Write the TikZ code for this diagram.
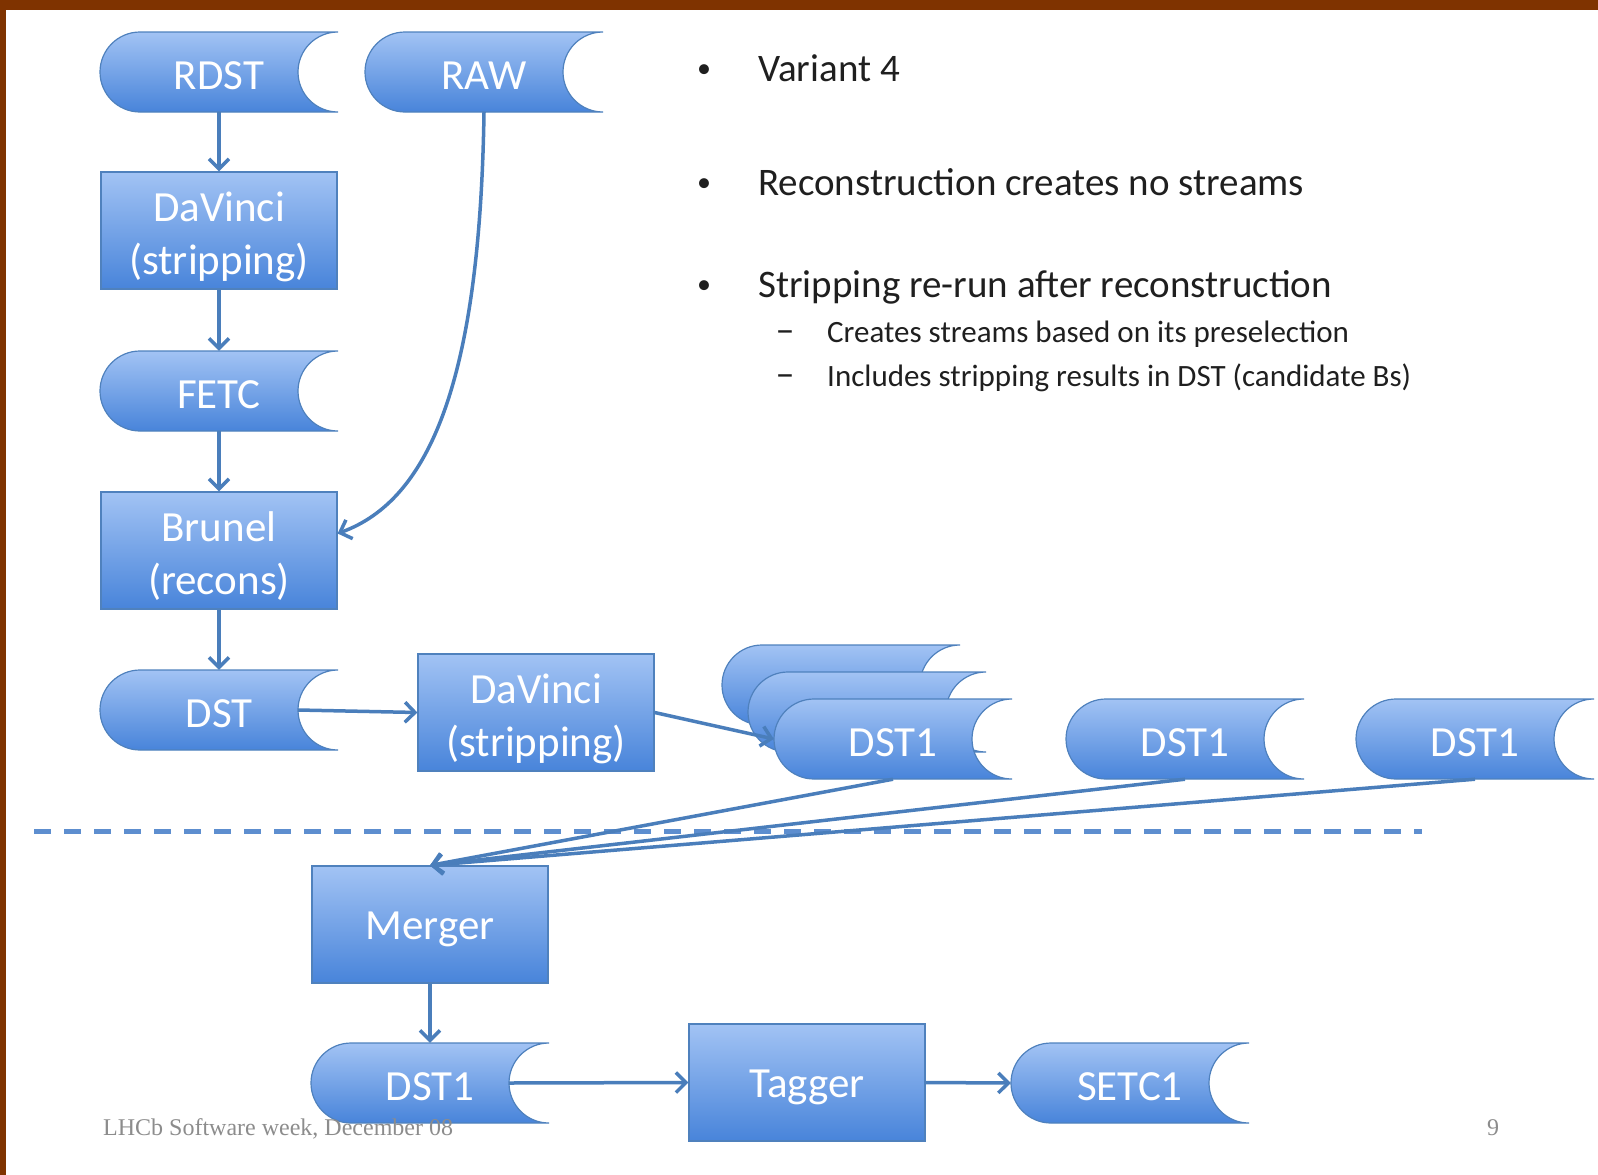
\documentclass[tikz,border=0pt]{standalone}
\usepackage{fontspec}
\setmainfont{Carlito}
\newfontfamily\footfont{Liberation Serif}
\usetikzlibrary{arrows.meta,positioning}
\definecolor{SlideBrown}{HTML}{7F3300}
\definecolor{FlowTop}{HTML}{A2C3F4}
\definecolor{FlowBot}{HTML}{4884DA}
\definecolor{FlowLine}{HTML}{4A7EBB}
\definecolor{FlowEdge}{HTML}{4F81BD}
\definecolor{FlowDash}{HTML}{5D8ECF}
\definecolor{TextBlack}{HTML}{1F1F1F}
\definecolor{FootGrey}{HTML}{8C8C8C}

\tikzset{
  flowbox/.style={draw=FlowEdge,line width=1.2pt,top color=FlowTop,bottom color=FlowBot,text=white,
    minimum width=236pt,minimum height=117pt,inner sep=0pt,align=center,
    execute at begin node={\rule{0pt}{37pt}},font=\fontsize{43}{53}\selectfont},
  storelabel/.style={minimum width=238pt,minimum height=80pt,inner sep=0pt,text=white,
    text height=34pt,text depth=0pt,font=\fontsize{43}{53}\selectfont},
  storeshade/.style={draw=FlowEdge,line width=1.2pt,top color=FlowTop,bottom color=FlowBot},
  flowarrow/.style={draw=FlowLine,line width=3.5pt,-{Straight Barb[length=10pt,width=20pt,line width=3.5pt]}},
  bullettext/.style={anchor=base west,inner sep=0pt,text=TextBlack,font=\fontsize{39}{47}\selectfont},
  subtext/.style={anchor=base west,inner sep=0pt,text=TextBlack,font=\fontsize{31}{37}\selectfont},
}

% two-line box label, set a little low as on the slide
\newcommand{\twolabel}[2]{\raisebox{-7pt}[\height][\depth]{\begin{tabular}{@{}c@{}}#1\\#2\end{tabular}}}

% stored-data shape, then its label node on top
\newcommand{\datastore}[3]{%
  \path[storeshade] (#2) ++(-79pt,40pt) -- ++(198pt,0pt)
    arc[start angle=90,end angle=270,x radius=40pt,y radius=40pt] -- ++(-198pt,0pt)
    arc[start angle=270,end angle=90,x radius=40pt,y radius=40pt] -- cycle;
  \node[storelabel] (#1) at (#2) {#3};
}

\begin{document}
\begin{tikzpicture}[x=1pt,y=1pt]
\useasboundingbox (0,0) rectangle (1598,-1175);
\fill[SlideBrown] (0,0) rectangle (1598,-10);
\fill[SlideBrown] (0,0) rectangle (6,-1175);

% left column
\datastore{rdst}{219,-72}{RDST}
\datastore{raw}{484,-72}{RAW}
\node[flowbox] (davinci) at (219,-230.5) {\twolabel{DaVinci}{(stripping)}};
\datastore{fetc}{219,-391}{FETC}
\node[flowbox] (brunel) at (219,-550.5) {\twolabel{Brunel}{(recons)}};
\datastore{dst}{219,-710}{DST}
\node[flowbox] (davincitwo) at (536,-712.5) {\twolabel{DaVinci}{(stripping)}};

% streams
\datastore{dstbackA}{841,-685}{}
\datastore{dstbackB}{867,-712}{}
\datastore{dsta}{893,-739}{DST1}
\datastore{dstb}{1185,-739}{DST1}
\datastore{dstc}{1475,-739}{DST1}

\draw[FlowDash,line width=5pt,dash pattern=on 17pt off 13pt] (34,-831) -- (1422,-831);

% merging
\node[flowbox] (merger) at (430,-924.5) {Merger};
\datastore{dstone}{430,-1083}{DST1}
\node[flowbox] (tagger) at (807,-1082.5) {Tagger};
\datastore{setc}{1130,-1083}{SETC1}

\draw[flowarrow] (rdst.south) -- (davinci.north);
\draw[flowarrow] (davinci.south) -- (fetc.north);
\draw[flowarrow] (fetc.south) -- (brunel.north);
\draw[flowarrow] (brunel.south) -- (dst.north);
\draw[flowarrow] (raw.south) .. controls (480,-380) and (430,-500) .. ([yshift=17pt]brunel.east);
\draw[flowarrow] ([xshift=-40pt]dst.east) -- (davincitwo.west);
\draw[flowarrow] (davincitwo.east) -- (dsta.west);
\foreach \s in {dsta,dstb,dstc}
  \draw[flowarrow] (\s.south) -- (merger.north);
\draw[flowarrow] (merger.south) -- (dstone.north);
\draw[flowarrow] ([xshift=-40pt]dstone.east) -- (tagger.west);
\draw[flowarrow] (tagger.east) -- (setc.west);

% bullets
\foreach \y/\txt/\nm in {81/Variant 4/variant,195/Reconstruction creates no streams/recon,297/Stripping re-run after reconstruction/strip} {
  \node[bullettext,anchor=base,font=\fontsize{28}{34}\selectfont] (dot-\nm) at (704,-\y+4) {•};
  \node[bullettext] (txt-\nm) at (758,-\y) {\txt};
}
\foreach \y/\txt/\nm in {342/Creates streams based on its preselection/subone,386/Includes stripping results in DST (candidate Bs)/subtwo} {
  \node[subtext,anchor=base,font=\fontsize{38}{44}\selectfont] (dash-\nm) at (785,-\y) {–};
  \node[subtext] (txt-\nm) at (827,-\y) {\txt};
}

% footer
\node[anchor=base west,inner sep=0pt,text=FootGrey,font=\footfont\fontsize{24}{28}\selectfont] (foot) at (103,-1135) {LHCb Software week, December 08};
\node[anchor=base,inner sep=0pt,text=FootGrey,font=\footfont\fontsize{24}{28}\selectfont] (pagenum) at (1493,-1135) {9};
\end{tikzpicture}
\end{document}
